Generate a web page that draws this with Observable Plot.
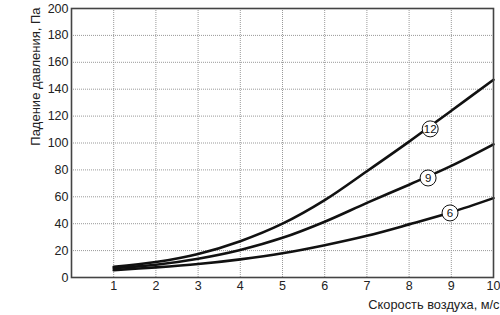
<!DOCTYPE html>
<html>
<head>
<meta charset="utf-8">
<script src="https://cdn.jsdelivr.net/npm/d3@7"></script>
<script src="https://cdn.jsdelivr.net/npm/@observablehq/plot@0.6"></script>
<style>
  body { margin: 0; background: #fff; }
  #chart svg { display: block; }
</style>
</head>
<body>
<div id="chart"></div>
<script>
const speeds = [1, 2, 3, 4, 5, 6, 7, 8, 9, 10];
const series12 = [8, 11.5, 17.5, 27, 40, 57.5, 79, 101, 124, 147];
const series9 = [7, 9.5, 14, 20.5, 29.5, 41.5, 55.5, 69, 83, 99];
const series6 = [5.5, 7.5, 10, 13.5, 18, 24, 31, 39.5, 48.5, 59];
const seriesNames = ["12", "9", "6"];
const labelX = [8.5, 8.45, 8.97];
const labelY = [110.5, 74, 48];
const xTicks = [1, 2, 3, 4, 5, 6, 7, 8, 9, 10];
const yTicks = [0, 20, 40, 60, 80, 100, 120, 140, 160, 180, 200];
const yTitle = "Падение давления, Па";
const xTitle = "Скорость воздуха, м/с";

const allSeries = [series12, series9, series6];
const rows = allSeries.flatMap((vals, i) =>
  vals.map((v, j) => ({ name: seriesNames[i], x: speeds[j], y: v })));
const labels = seriesNames.map((n, i) => ({ name: n, x: labelX[i], y: labelY[i] }));

const font = "'Liberation Sans', Arial, Helvetica, sans-serif";

const chart = Plot.plot({
  width: 500,
  height: 315,
  marginLeft: 71,
  marginRight: 7,
  marginTop: 8,
  marginBottom: 38,
  style: { fontFamily: font, fontSize: "12px", color: "#222", background: "#fff" },
  x: { domain: [0, 10], ticks: xTicks, label: null },
  y: { domain: [0, 200], ticks: yTicks, label: null },
  marks: [
    Plot.gridX(xTicks.slice(0, -1), { stroke: "#999", strokeOpacity: 1, strokeDasharray: "1,1", strokeWidth: 1 }),
    Plot.gridY(yTicks.slice(1, -1), { stroke: "#999", strokeOpacity: 1, strokeDasharray: "1,1", strokeWidth: 1 }),
    Plot.axisX(xTicks, { tickSize: 0, tickPadding: 4, fontSize: 12.5, fill: "#222" }),
    Plot.axisY(yTicks, { tickSize: 0, tickPadding: 3, fontSize: 12.5, fill: "#222" }),
    Plot.line(rows, { x: "x", y: "y", z: "name", curve: "catmull-rom", stroke: "#111", strokeWidth: 2.6 }),
    Plot.frame({ stroke: "#444", strokeWidth: 1.6 }),
    Plot.dot(labels, { x: "x", y: "y", r: 8, fill: "white", stroke: "#111", strokeWidth: 1 }),
    Plot.text(labels, { x: "x", y: "y", text: "name", fontSize: 11.5, fill: "#111" }),
    Plot.text([yTitle], { frameAnchor: "top-left", text: d => d, rotate: -90, textAnchor: "end", dx: -41, dy: -1, fontSize: 13, fill: "#222" }),
    Plot.text([xTitle], { frameAnchor: "bottom-right", text: d => d, textAnchor: "end", dx: 6, dy: 31, fontSize: 12.8, fill: "#222" })
  ]
});
document.getElementById("chart").appendChild(chart);
</script>
</body>
</html>
